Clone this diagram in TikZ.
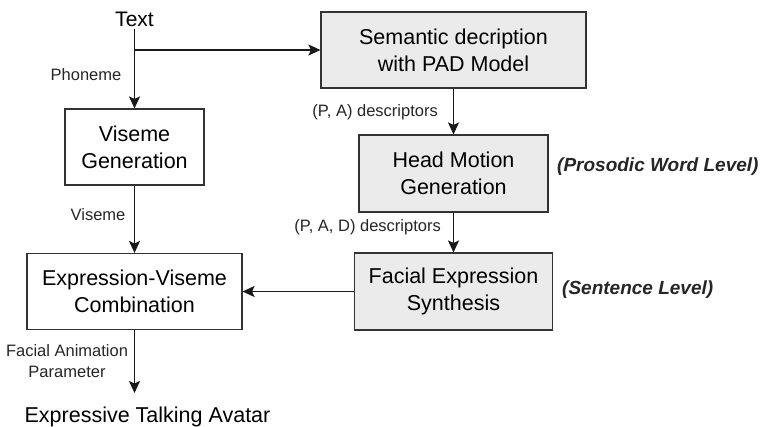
\documentclass[tikz,border=0pt]{standalone}
\usepackage{fontspec}
\setmainfont{Liberation Sans}
\usetikzlibrary{arrows.meta}
\begin{document}
\begin{tikzpicture}[x=1pt,y=-1pt,
  boxbase/.style={draw=black!80, line width=1.1pt, align=center, inner sep=0pt,
    font=\fontsize{21.5}{27}\selectfont},
  wbox/.style={boxbase, fill=white},
  gbox/.style={boxbase, fill=black!8},
  lbl/.style={font=\fontsize{16.5}{21}\selectfont, inner sep=0pt, text=black!85},
  lvl/.style={font=\fontsize{19}{23}\selectfont\bfseries\itshape, inner sep=0pt, text=black!85},
  arr/.style={line width=1.6pt, draw=black!90, -{Stealth[length=12pt,width=11pt,inset=2.5pt]}}]
\useasboundingbox (0,0) rectangle (763,426);
\fill[white] (0,0) rectangle (763,426);

\node[font=\fontsize{21}{25}\selectfont, inner sep=2pt] (text) at (134.5,19) {Text};
\coordinate (branch) at (134.5,50);

\node[wbox, minimum width=139pt, minimum height=76pt] (vis) at (134.5,147) {Viseme\\Generation};
\node[gbox, minimum width=265pt, minimum height=76pt] (sem) at (453.5,50) {Semantic decription\\with PAD Model};
\node[gbox, minimum width=189pt, minimum height=77pt] (head) at (453.5,173.5) {Head Motion\\Generation};
\node[gbox, minimum width=198pt, minimum height=77pt] (fac) at (453.5,291.5) {Facial Expression\\Synthesis};
\node[wbox, minimum width=215pt, minimum height=76pt] (expr) at (134.5,291.5) {Expression-Viseme\\Combination};

\node[font=\fontsize{21.5}{26}\selectfont, inner sep=0pt, anchor=base] (avatar) at (147.5,422) {Expressive Talking Avatar};
\coordinate (avtop) at (134.5,393);

\node[lbl] (phon) at (86,75) {Phoneme};
\node[lbl, anchor=east] (pa) at (438,112) {(P, A) descriptors};
\node[lbl] (visl) at (98,215) {Viseme};
\node[lbl, anchor=east] (pad) at (441,227) {(P, A, D) descriptors};
\node[lbl, align=center, font=\fontsize{16.5}{21}\selectfont] (fap) at (67,361) {Facial Animation\\Parameter};

\node[lvl, anchor=west] (pwl) at (557,167) {(Prosodic Word Level)};
\node[lvl, anchor=west] (sl) at (562,290) {(Sentence Level)};

\draw[arr] (text.south) -- (vis.north);
\draw[arr] (branch) -- (sem.west);
\draw[arr] (sem.south) -- (head.north);
\draw[arr] (head.south) -- (fac.north);
\draw[arr] (vis.south) -- (expr.north);
\draw[arr] (fac.west) -- (expr.east);
\draw[arr] (expr.south) -- (avtop);
\end{tikzpicture}
\end{document}
